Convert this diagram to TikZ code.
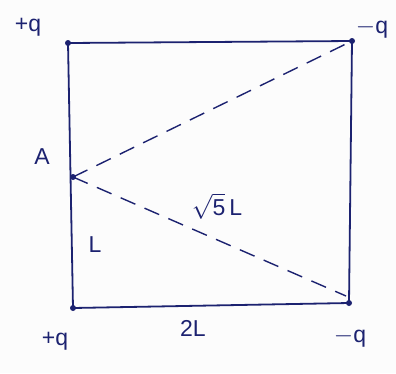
\documentclass[tikz,border=0pt]{standalone}
\usepackage{fontspec}
\setmainfont{Liberation Sans}
\begin{document}
\begin{tikzpicture}[x=1pt,y=-1pt,
  ink/.style={draw=inkblue,line width=1.8pt},
  dashline/.style={draw=inkblue,line width=1.4pt,dash pattern=on 16pt off 10pt},
  lbl/.style={text=inkblue,font=\fontsize{23}{26}\selectfont,inner sep=0pt},
  dotmark/.style={circle,fill=inkblue,inner sep=0pt,minimum size=6pt}]
\definecolor{inkblue}{RGB}{28,34,112}
\fill[white!98!gray] (0,0) rectangle (396,373);
\useasboundingbox (0,0) rectangle (396,373);
\coordinate (TL) at (68,43);
\coordinate (TR) at (352,41);
\coordinate (BR) at (349,303);
\coordinate (BL) at (73,308);
\coordinate (A) at (73,177);
\coordinate (BRend) at (346,296);
\draw[ink,line join=round] (TL) -- (TR) -- (BR) -- (BL) -- cycle;
\draw[dashline] (A) -- (TR);
\draw[dashline] (A) -- (BRend);
\node[dotmark] (dTL) at (TL) {};
\node[dotmark] (dTR) at (TR) {};
\node[dotmark] (dBR) at (BR) {};
\node[dotmark] (dBL) at (BL) {};
\node[dotmark] (dA) at (A) {};
\node[lbl] (qtl) at (28,27) {+q};
\node[lbl] (qtr) at (372,29) {$-$q};
\node[lbl] (qbl) at (55,341) {+q};
\node[lbl] (qbr) at (350,338) {$-$q};
\node[lbl] (lA) at (42,157) {A};
\node[lbl] (lroot) at (217,206) {$\sqrt{\mbox{\fontsize{23}{26}\selectfont 5}}$\,L};
\node[lbl] (lL) at (95,245) {L};
\node[lbl] (l2L) at (193,328) {2L};
\end{tikzpicture}
\end{document}
